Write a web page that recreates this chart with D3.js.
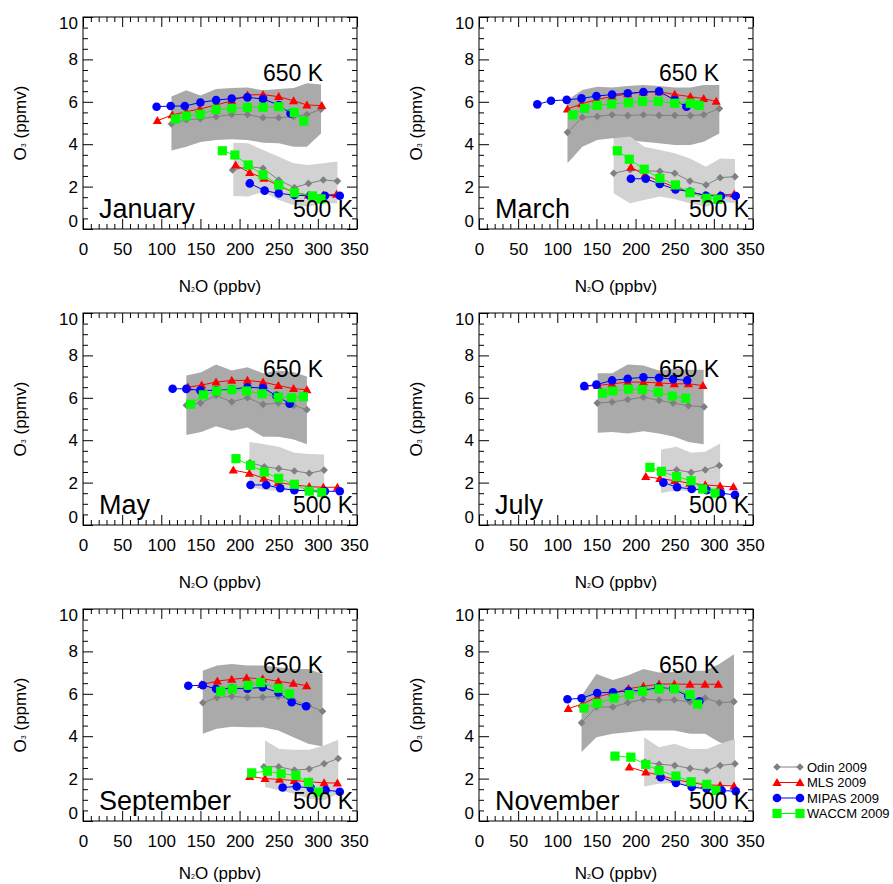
<!DOCTYPE html>
<html>
<head>
<meta charset="utf-8">
<script src="https://cdn.jsdelivr.net/npm/d3@7"></script>
<style>
  html, body { margin: 0; padding: 0; background: #fff; }
  svg { display: block; font-family: "Liberation Sans", Arial, Helvetica, sans-serif; }
</style>
</head>
<body>
<svg id="chart" width="893" height="884"></svg>
<script>
// ---------------- DATA ----------------
const months = ["January", "March", "May", "July", "September", "November"];
const xTicks = [0, 50, 100, 150, 200, 250, 300, 350];
const yTicks = [0, 2, 4, 6, 8, 10];
const seriesNames = ["Odin 2009", "MLS 2009", "MIPAS 2009", "WACCM 2009"];
const levelLabels = ["650 K", "500 K"];

// [N2O ppbv, O3 ppmv] per month
const odin650 = [
  [[113,4.95],[132,5.15],[150,5.2],[170,5.3],[190,5.4],[210,5.4],[230,5.25],[250,5.25],[269,5.3],[286,5.4],[304,5.65]],
  [[113,4.56],[132,5.27],[151,5.31],[170,5.39],[190,5.35],[210,5.39],[230,5.36],[250,5.36],[270,5.35],[287,5.39],[307,5.68]],
  [[132,5.65],[150,5.75],[170,6.11],[190,5.81],[210,6.0],[230,5.69],[249.5,5.75],[269,5.64],[286,5.44]],
  [[151,5.75],[170,5.8],[190,5.92],[210,6.03],[230,5.88],[248,5.75],[267.5,5.63],[287.5,5.57]],
  [[153,5.58],[171,5.82],[190,5.88],[210,5.82],[229.5,5.84],[249.5,5.87],[268.7,5.7],[287.8,5.45],[306,5.18]],
  [[131,4.63],[150,5.38],[171,5.38],[190,5.58],[210,5.74],[230,5.71],[249.5,5.71],[269.5,5.62],[288.7,5.8],[307,5.58],[325.7,5.63]]
];
// [N2O, low, high]
const band650 = [
  [[113,3.7,6.25],[132,3.88,6.55],[150,4.1,6.3],[170,4.2,6.6],[190,4.23,6.65],[210,4.2,6.67],[230,4.07,6.55],[250,4.04,6.6],[269,3.88,6.65],[286,3.88,6.87],[304,4.5,6.82]],
  [[113,3.1,6.08],[132,3.88,6.56],[151,4.2,6.71],[170,4.28,6.68],[190,4.2,6.75],[210,4.12,6.79],[230,4.04,6.75],[250,3.96,6.68],[270,3.96,6.68],[287,4.12,6.79],[307,4.51,6.79]],
  [[132,4.24,7.05],[151,4.39,7.2],[170,4.66,7.57],[190,4.44,7.29],[210,4.6,7.44],[230,4.16,7.16],[249.5,4.16,7.29],[269,4.03,7.2],[286,3.81,7.0]],
  [[151.6,4.35,7.16],[170,4.39,7.16],[190,4.32,7.57],[210,4.42,7.52],[230,4.32,7.29],[249.5,4.16,7.36],[267.5,3.92,7.32],[287,3.81,7.32]],
  [[153,4.11,7.09],[171,4.35,7.33],[190,4.45,7.4],[210,4.42,7.33],[229.5,4.42,7.33],[249.5,4.27,7.25],[268.7,3.95,7.17],[287.8,3.64,7.17],[306,3.51,6.93]],
  [[131,3.25,5.91],[150,3.95,6.93],[171,4.11,6.65],[190,4.19,6.86],[210,4.27,7.17],[230,4.27,7.01],[249.5,4.27,7.03],[269.5,4.11,7.09],[288.7,4.11,7.09],[307,3.72,7.4],[325.7,3.48,7.87]]
];
const mls650 = [
  [[95,5.11],[114,5.38],[132,5.53],[149,5.66],[170,5.85],[190,6.04],[210,6.32],[230,6.34],[250,6.24],[269,6.05],[286,5.85],[305,5.82]],
  [[113,5.66],[131,5.9],[150,6.1],[170,6.25],[190,6.37],[210,6.46],[230,6.47],[250,6.35],[270,6.24],[287,6.15],[303,6.02]],
  [[134,6.5],[151.6,6.6],[170,6.74],[190,6.82],[210,6.82],[230,6.74],[249.5,6.58],[269,6.43],[286,6.38]],
  [[135,6.55],[151.6,6.58],[170,6.66],[190,6.74],[210,6.74],[230,6.7],[249.5,6.66],[267.5,6.66],[286,6.58]],
  [[151.6,6.43],[171.6,6.6],[190,6.68],[209,6.75],[229.5,6.71],[249.5,6.59],[268.7,6.49],[285.7,6.38]],
  [[114,5.3],[132,5.52],[151,5.85],[171,6.04],[191,6.24],[210,6.35],[230,6.46],[249.5,6.46],[269.5,6.45],[288.7,6.45],[305.7,6.45]]
];
const mipas650 = [
  [[94,5.77],[112,5.8],[130,5.8],[150,5.97],[170,6.08],[190,6.15],[210,6.21],[230,6.13],[250,5.85],[265,5.45]],
  [[74.5,5.88],[92,6.05],[112,6.09],[131,6.16],[150,6.27],[170,6.34],[190,6.4],[210,6.46],[230,6.49],[250,6.08],[265,5.77]],
  [[114.5,6.43],[132,6.42],[150,6.35],[170,6.35],[190,6.4],[210,6.5],[230,6.46],[247,6.1],[264,5.72]],
  [[134.5,6.55],[150,6.62],[170,6.82],[190,6.9],[210,6.97],[230,6.94],[248,6.88],[266,6.82]],
  [[134.5,6.38],[153,6.4],[170,6.24],[190,6.25],[210,6.24],[229.5,6.31],[249.5,6.06],[266.5,5.6],[285,5.41]],
  [[113,5.74],[131,5.79],[151,6.04],[171,6.07],[191,6.13],[209,6.16],[229,6.29],[248,6.24],[267.4,5.88],[281.5,5.65]]
];
const waccm650 = [
  [[118,5.19],[132,5.33],[150,5.41],[170,5.64],[190,5.69],[210,5.74],[230,5.74],[250,5.77],[270,5.5],[282,5.09]],
  [[120,5.38],[135,5.69],[151,5.83],[169.5,5.9],[191,5.96],[209,6.02],[229,6.02],[250,5.93],[270,5.93],[281,5.83]],
  [[137.5,5.7],[153.7,6.14],[170.7,6.32],[190,6.38],[209,6.32],[228.7,6.19],[249.5,6.03],[266.5,6.0],[281.5,6.05]],
  [[158,6.22],[171,6.32],[191,6.41],[208.6,6.39],[229,6.27],[247,6.08],[264,5.98]],
  [[175.9,6.12],[190.8,6.23],[211,6.4],[227,6.53],[249.5,6.26],[263.6,6.0]],
  [[134,5.33],[151,5.55],[172.4,5.8],[192,5.96],[209,6.12],[230,6.23],[249.5,6.23],[269.5,5.96],[279.3,5.51]]
];
const odin500 = [
  [[191,2.78],[211,2.95],[230,2.86],[250,2.31],[270,1.95],[288,2.15],[307,2.31],[325,2.26]],
  [[172,2.63],[193,2.8],[211,2.75],[231,2.72],[250,2.63],[269.5,2.26],[290,2.08],[308,2.42],[327,2.47]],
  [[213,2.95],[231.6,2.75],[250,2.66],[270,2.55],[289,2.44],[308,2.59]],
  [[233,2.54],[252.5,2.6],[271,2.48],[289,2.6],[307,2.81]],
  [[231,2.56],[250,2.56],[270,2.4],[289,2.45],[308,2.7],[326,2.95]],
  [[212,2.78],[230,2.68],[250,2.62],[269.5,2.48],[290.8,2.38],[308,2.62],[327,2.7]]
];
const band500 = [
  [[192,1.56,4.07],[211,1.53,4.04],[230,1.76,3.73],[250,1.37,3.41],[269,1.13,3.1],[288,1.05,3.02],[307,1.21,3.1],[325,1.21,3.18]],
  [[172,1.68,4.28],[193,1.21,4.36],[211,1.37,3.88],[231,1.53,3.73],[250,1.4,3.57],[269.5,1.21,3.33],[290,1.05,2.94],[308,1.29,3.33],[327,1.21,3.3]],
  [[212.5,1.81,3.92],[231.6,1.65,3.81],[250,1.62,3.69],[270,1.65,3.41],[289,1.58,3.35],[308,1.42,3.33]],
  [[232.5,1.5,3.56],[252.5,1.65,3.69],[271,1.58,3.41],[289,1.65,3.46],[308,1.5,3.84]],
  [[232.5,1.6,3.8],[251,1.44,3.4],[270,1.29,3.36],[289,1.05,3.36],[308,0.97,3.56],[326,1.29,3.83]],
  [[211,1.63,3.95],[230,1.76,3.48],[250,1.79,3.64],[269.5,1.6,3.4],[290.8,1.44,3.4],[308,1.6,3.64],[327,1.68,3.87]]
];
const mls500 = [
  [[195,3.02],[213,2.66],[231,2.39],[250,2.04],[269,1.73],[288,1.6],[307,1.6],[324,1.64]],
  [[194,2.91],[212,2.55],[231,2.25],[250,1.98],[269.5,1.73],[289,1.6],[308,1.6],[326,1.65]],
  [[192,2.59],[212.5,2.44],[231,2.2],[249.5,2.0],[270,1.89],[289,1.81],[307,1.78],[325,1.78]],
  [[213,2.28],[231,2.19],[250,2.09],[269.5,1.97],[289,1.89],[308,1.84],[325,1.8]],
  [[213,2.1],[232.5,2.0],[251,1.96],[270,1.91],[289,1.85],[308,1.8],[325,1.79]],
  [[192,2.54],[213,2.31],[231,2.15],[250,1.96],[269.5,1.82],[288.7,1.71],[308,1.68],[325.7,1.65]]
];
const mipas500 = [
  [[213,2.15],[232,1.81],[250,1.68],[270,1.6],[290,1.56],[309,1.57],[328,1.57]],
  [[194,2.37],[213,2.37],[231,2.12],[251,1.87],[269.5,1.76],[290,1.57],[309,1.56],[328,1.56]],
  [[214,1.89],[234,1.89],[252,1.73],[270,1.64],[289,1.61],[309,1.59],[328,1.59]],
  [[235.5,2.0],[253,1.78],[271.7,1.7],[291,1.64],[309,1.5],[327,1.42]],
  [[255,1.58],[273,1.63],[291,1.55],[310,1.46],[328,1.38]],
  [[232,2.07],[251.6,1.8],[271.7,1.6],[290.8,1.52],[310,1.44],[328,1.4]]
];
const waccm500 = [
  [[178,3.69],[194,3.49],[211,3.02],[230,2.55],[250,2.08],[270,1.71],[293,1.56],[304,1.42]],
  [[176.7,3.69],[192,3.29],[211,2.82],[231,2.39],[251,2.08],[269.5,1.71],[291,1.45],[305,1.4]],
  [[195.4,3.13],[214,2.81],[231.6,2.5],[250,2.2],[270,1.92],[289,1.6],[305,1.53]],
  [[218.4,2.72],[233,2.53],[252.5,2.28],[271,2.09],[285.7,1.7],[301.5,1.5]],
  [[215.5,2.27],[235.5,2.35],[253,2.23],[272,2.15],[288,1.82],[300.6,1.36]],
  [[173.7,3.06],[194,3.01],[213,2.67],[230,2.38],[251.6,2.12],[271,1.85],[291,1.73],[302.7,1.44]]
];

// ---------------- LAYOUT / STYLE ----------------
const colX = [83, 479];
const rowY = [17, 313, 609];
const yTitleX = [26, 422];
const pw = 274, ph = 212;
const colors = { odin: "#808080", mls: "#ff0000", mipas: "#0000ff", waccm: "#00ff00" };
const bandColors = { b650: "#aaaaaa", b500: "#d2d2d2" };

const markers = {
  odin: "M0,-3.8L3.8,0L0,3.8L-3.8,0Z",
  mls: "M0,-4.6L4.6,3.4L-4.6,3.4Z",
  mipas: d3.symbol(d3.symbolCircle, Math.PI * 4.3 * 4.3)(),
  waccm: "M-4.6,-4.6H4.6V4.6H-4.6Z"
};

const svg = d3.select("#chart");
const FONT = 17;

months.forEach((m, i) => {
  const col = i % 2, row = Math.floor(i / 2);
  const g = svg.append("g").attr("transform", `translate(${colX[col]},${rowY[row]})`);
  const x = d3.scaleLinear().domain([0, 350]).range([0, pw]);
  const y = d3.scaleLinear().domain([0, 10]).range([ph, 0]);

  // bands
  const area = d3.area().x(d => x(d[0])).y0(d => y(d[1])).y1(d => y(d[2]));
  g.append("path").datum(band650[i]).attr("d", area).attr("fill", bandColors.b650);
  g.append("path").datum(band500[i]).attr("d", area).attr("fill", bandColors.b500);

  const line = d3.line().x(d => x(d[0])).y(d => y(d[1]));
  const sets = [
    ["odin", odin650[i], odin500[i]],
    ["mls", mls650[i], mls500[i]],
    ["mipas", mipas650[i], mipas500[i]],
    ["waccm", waccm650[i], waccm500[i]]
  ];
  sets.forEach(([key, a, b]) => {
    [a, b].forEach(data => {
      g.append("path").datum(data).attr("d", line)
        .attr("fill", "none").attr("stroke", colors[key]).attr("stroke-width", 1);
      g.selectAll(null).data(data).enter().append("path")
        .attr("d", markers[key])
        .attr("transform", d => `translate(${x(d[0])},${y(d[1])})`)
        .attr("fill", colors[key]);
    });
  });

  // axes (ticks inward)
  const minorX = d3.range(0, 351, 10).filter(v => v % 50 !== 0);
  const minorY = d3.range(0, 10.01, 0.5).filter(v => Math.abs(v % 2) > 1e-6);

  const axB = g.append("g").attr("transform", `translate(0,${ph})`)
    .call(d3.axisBottom(x).tickValues(xTicks).tickSize(-10).tickSizeOuter(0).tickPadding(14).tickFormat(d3.format("d")));
  g.append("g").attr("transform", `translate(0,${ph})`)
    .call(d3.axisBottom(x).tickValues(minorX).tickSize(-5).tickSizeOuter(0).tickFormat(""));
  g.append("g").call(d3.axisTop(x).tickValues(xTicks).tickSize(-10).tickSizeOuter(0).tickFormat(""));
  g.append("g").call(d3.axisTop(x).tickValues(minorX).tickSize(-5).tickSizeOuter(0).tickFormat(""));
  const axL = g.append("g")
    .call(d3.axisLeft(y).tickValues(yTicks).tickSize(-10).tickSizeOuter(0).tickPadding(5).tickFormat(d3.format("d")));
  g.append("g").call(d3.axisLeft(y).tickValues(minorY).tickSize(-5).tickSizeOuter(0).tickFormat(""));
  g.append("g").attr("transform", `translate(${pw},0)`)
    .call(d3.axisRight(y).tickValues(yTicks).tickSize(-10).tickSizeOuter(0).tickFormat(""));
  g.append("g").attr("transform", `translate(${pw},0)`)
    .call(d3.axisRight(y).tickValues(minorY).tickSize(-5).tickSizeOuter(0).tickFormat(""));

  g.selectAll(".domain").remove();
  g.selectAll(".tick line").attr("stroke", "#000");
  g.selectAll(".tick text").attr("font-size", FONT).attr("font-family", null).attr("fill", "#000");
  // IDL-style label nudges at the ends of the y axis
  axL.selectAll(".tick text").attr("dy", d => d === 0 ? "-0.15em" : d === 10 ? "0.65em" : "0.32em");
  axB.selectAll(".tick text").attr("dx", d => d === 350 ? "-3" : 0);

  g.append("rect").attr("width", pw).attr("height", ph)
    .attr("fill", "none").attr("stroke", "#000").attr("stroke-width", 1);

  // labels inside panel
  g.append("text").attr("x", 16).attr("y", 201).attr("font-size", 27).text(m);
  g.append("text").attr("x", 180).attr("y", 64).attr("font-size", 23).text(levelLabels[0]);
  g.append("text").attr("x", 210).attr("y", 200).attr("font-size", 23).text(levelLabels[1]);

  // axis titles
  const xt = g.append("text").attr("x", pw / 2).attr("y", ph + (row === 2 ? 58 : 63))
    .attr("text-anchor", "middle").attr("font-size", FONT);
  xt.append("tspan").text("N");
  xt.append("tspan").attr("font-size", 7).text("2");
  xt.append("tspan").text("O (ppbv)");

  const yt = g.append("text")
    .attr("transform", `translate(${yTitleX[col] - colX[col]},${ph / 2}) rotate(-90)`)
    .attr("text-anchor", "middle").attr("font-size", FONT);
  yt.append("tspan").text("O");
  yt.append("tspan").attr("font-size", 7).text("3");
  yt.append("tspan").text(" (ppmv)");
});

// ---------------- LEGEND ----------------
const legKeys = ["odin", "mls", "mipas", "waccm"];
const leg = svg.append("g").attr("transform", "translate(777,767)");
legKeys.forEach((k, j) => {
  const yy = j * 15.5;
  leg.append("line").attr("x1", 0).attr("x2", 23).attr("y1", yy).attr("y2", yy)
    .attr("stroke", colors[k]).attr("stroke-width", 1);
  [0, 23].forEach(xx => leg.append("path").attr("d", markers[k])
    .attr("transform", `translate(${xx},${yy})`).attr("fill", colors[k]));
  leg.append("text").attr("x", 30).attr("y", yy + 4.5).attr("font-size", 13).text(seriesNames[j]);
});
</script>
</body>
</html>
